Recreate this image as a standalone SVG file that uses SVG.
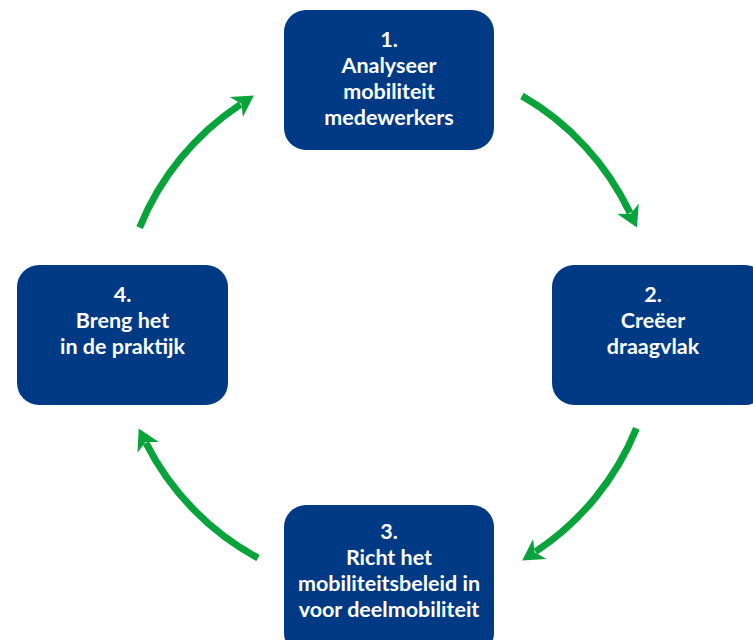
<svg xmlns="http://www.w3.org/2000/svg" width="753" height="640" viewBox="0 0 753 640">
<defs>
<style>
.box{fill:#003A85}
.t{font-family:Lato,"Liberation Sans",sans-serif;font-weight:bold;font-size:21.5px;fill:#ffffff;text-anchor:middle}
.arc{fill:none;stroke:#09A33B;stroke-width:7;marker-end:url(#ah)}
</style>
<marker id="ah" markerUnits="userSpaceOnUse" viewBox="0 -13 22 26" refX="5" refY="0" markerWidth="22" markerHeight="26" orient="auto">
<polygon points="0,-12 21,0 0,12 6,0" fill="#09A33B"/>
</marker>
</defs>
<rect width="753" height="640" fill="#ffffff"/>
<g id="connectors">
<path class="arc" d="M522,95.9 A268,268 0 0 1 630.1,213.1"/>
<path class="arc" d="M636.4,428.4 A268,268 0 0 1 535.5,551.7"/>
<path class="arc" d="M258,558 A268,268 0 0 1 145.9,442.9"/>
<path class="arc" d="M139.6,227.6 A268,268 0 0 1 240.5,104.3"/>
</g>
<g id="node1">
<rect class="box" x="284" y="10" width="210" height="140" rx="22"/>
<text class="t" x="389" y="47">1.</text>
<text class="t" x="389" y="73">Analyseer</text>
<text class="t" x="389" y="99">mobiliteit</text>
<text class="t" x="389" y="125">medewerkers</text>
</g>
<g id="node2">
<rect class="box" x="552" y="265" width="215" height="140" rx="22"/>
<text class="t" x="653" y="302">2.</text>
<text class="t" x="653" y="328">Creëer</text>
<text class="t" x="653" y="354">draagvlak</text>
</g>
<g id="node3">
<rect class="box" x="284" y="505" width="210" height="150" rx="22"/>
<text class="t" x="389" y="539">3.</text>
<text class="t" x="389" y="565">Richt het</text>
<text class="t" x="389" y="591">mobiliteitsbeleid in</text>
<text class="t" x="389" y="617">voor deelmobiliteit</text>
</g>
<g id="node4">
<rect class="box" x="17" y="265" width="211" height="140" rx="22"/>
<text class="t" x="122.5" y="302">4.</text>
<text class="t" x="122.5" y="328">Breng het</text>
<text class="t" x="122.5" y="354">in de praktijk</text>
</g>
</svg>
